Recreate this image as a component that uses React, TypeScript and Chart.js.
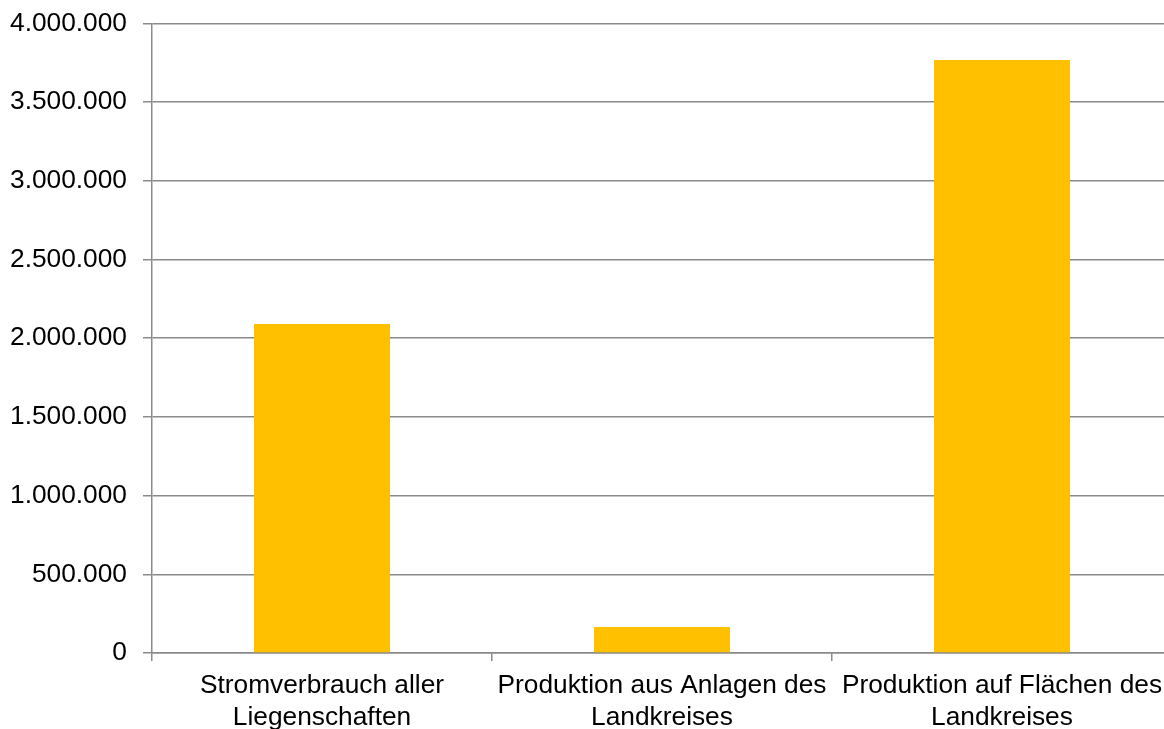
import React, { useEffect, useRef } from "react";
import { Chart, registerables } from "chart.js";

Chart.register(...registerables);

const categories: string[][] = [
  ["Stromverbrauch aller", "Liegenschaften"],
  ["Produktion aus Anlagen des", "Landkreises"],
  ["Produktion auf Flächen des", "Landkreises"],
];
const values: number[] = [2090000, 165000, 3767000];
const yMin = 0;
const yMax = 4000000;
const yStep = 500000;

const fmt = (v: number) =>
  Math.round(v)
    .toString()
    .replace(/\B(?=(\d{3})+(?!\d))/g, ".");

export default function App() {
  const ref = useRef<HTMLCanvasElement | null>(null);
  useEffect(() => {
    if (!ref.current) return;
    const font = { family: "'Liberation Sans', Arial, sans-serif", size: 26.3, lineHeight: 1.24 };
    const chart = new Chart(ref.current, {
      type: "bar",
      data: {
        labels: categories,
        datasets: [
          {
            data: values,
            backgroundColor: "#FFC000",
            borderWidth: 0,
            barPercentage: 0.4,
            categoryPercentage: 1,
          },
        ],
      },
      options: {
        responsive: false,
        animation: false,
        devicePixelRatio: 1,
        layout: { padding: { top: 23.3, right: 0, bottom: 0, left: 0 } },
        plugins: { legend: { display: false }, tooltip: { enabled: false } },
        scales: {
          x: {
            grid: {
              offset: true,
              drawOnChartArea: false,
              drawTicks: true,
              tickLength: 8,
              color: "#8a8a8a",
              lineWidth: 1.5,
            },
            border: { display: true, color: "#8a8a8a", width: 1.5 },
            ticks: {
              color: "#000",
              font,
              padding: 8,
              maxRotation: 0,
              autoSkip: false,
            },
            afterFit: (s: any) => {
              s.height = 76;
              s.paddingLeft = 0;
              s.paddingRight = 0;
            },
          },
          y: {
            min: yMin,
            max: yMax,
            grid: {
              color: "#8a8a8a",
              lineWidth: 1.5,
              tickLength: 9,
            },
            border: { display: true, color: "#8a8a8a", width: 1.5 },
            ticks: {
              stepSize: yStep,
              color: "#000",
              font,
              padding: 16,
              callback: (v: any) => fmt(Number(v)),
            },
            afterFit: (s: any) => {
              s.width = 152;
              s.paddingTop = 0;
              s.paddingBottom = 0;
            },
          },
        },
      },
    });
    return () => chart.destroy();
  }, []);
  return (
    <div
      style={{
        position: "absolute",
        left: 0,
        top: 0,
        width: 1164,
        height: 729,
        overflow: "hidden",
        background: "#fff",
      }}
    >
      <canvas ref={ref} width={1172} height={729} style={{ display: "block" }} />
    </div>
  );
}
